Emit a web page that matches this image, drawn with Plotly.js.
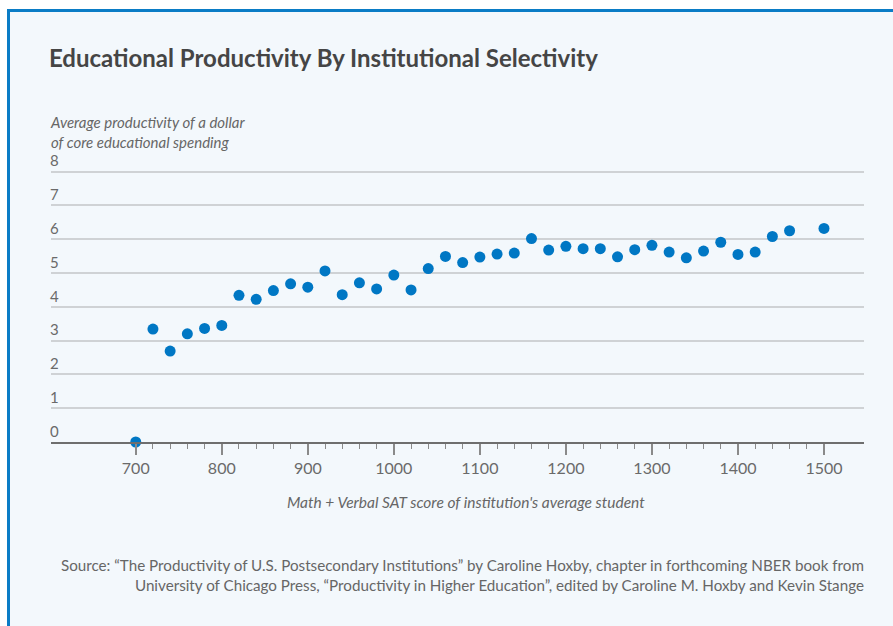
<!DOCTYPE html>
<html>
<head>
<meta charset="utf-8">
<script src="https://cdn.plot.ly/plotly-3.0.1.min.js"></script>
<style>
  html, body { margin: 0; padding: 0; background: #ffffff; }
  #wrap { position: relative; width: 893px; height: 626px; overflow: hidden; }
  #panel { position: absolute; left: 7px; top: 9px; right: -10px; bottom: -10px;
           background: #f3f8fc; border-left: 3px solid #0a7cc6; border-top: 3px solid #0a7cc6; }
  #chart { position: absolute; left: 0; top: 0; width: 893px; height: 626px; }
</style>
</head>
<body>
<div id="wrap">
  <div id="panel"></div>
  <div id="chart"></div>
</div>
<script>
// Math + Verbal SAT score of institution's average student
const satScores = [700, 720, 740, 760, 780, 800, 820, 840, 860, 880, 900, 920, 940, 960, 980,
  1000, 1020, 1040, 1060, 1080, 1100, 1120, 1140, 1160, 1180, 1200, 1220, 1240, 1260, 1280,
  1300, 1320, 1340, 1360, 1380, 1400, 1420, 1440, 1460, 1500];
// Average productivity of a dollar of core educational spending
const productivity = [0.00, 3.34, 2.69, 3.20, 3.36, 3.45, 4.34, 4.22, 4.48, 4.68, 4.58, 5.06, 4.36, 4.71, 4.53,
  4.94, 4.50, 5.13, 5.49, 5.31, 5.47, 5.56, 5.59, 6.02, 5.68, 5.79, 5.72, 5.72, 5.48, 5.69,
  5.82, 5.62, 5.45, 5.65, 5.91, 5.55, 5.62, 6.08, 6.25, 6.32];
const xTickVals = [700, 800, 900, 1000, 1100, 1200, 1300, 1400, 1500];
const yTickVals = [0, 1, 2, 3, 4, 5, 6, 7, 8];

const minorVals = [];
for (let v = xTickVals[0]; v <= xTickVals[xTickVals.length - 1]; v += 20) {
  if (v % 100 !== 0) minorVals.push(v);
}

const FONT = 'Lato, "Source Sans Pro", "Open Sans", sans-serif';

const trace = {
  type: 'scatter',
  mode: 'markers',
  x: satScores,
  y: productivity,
  cliponaxis: false,
  marker: { size: 11, color: '#0077c4' },
  hoverinfo: 'x+y'
};

const layout = {
  width: 893,
  height: 626,
  margin: { l: 51, r: 29, t: 145, b: 184 },
  paper_bgcolor: 'rgba(0,0,0,0)',
  plot_bgcolor: 'rgba(0,0,0,0)',
  showlegend: false,
  font: { family: FONT, color: '#666666' },
  title: {
    text: 'Educational Productivity By Institutional Selectivity',
    xref: 'container', yref: 'container',
    x: 49 / 893, xanchor: 'left',
    y: 1 - 59 / 626, yanchor: 'middle',
    font: { family: FONT, size: 24, color: '#454545', weight: 700 }
  },
  xaxis: {
    range: [601.5, 1546.5],
    tickmode: 'array',
    tickvals: xTickVals,
    ticks: 'outside',
    ticklen: 11,
    tickwidth: 1.5,
    tickcolor: '#8a8a8a',
    showline: true,
    linecolor: '#6e6e6e',
    linewidth: 1.5,
    showgrid: false,
    zeroline: false,
    tickfont: { family: FONT, size: 16, color: '#6a6a6a' },
    minor: { tickmode: 'array', tickvals: minorVals, ticks: 'outside', ticklen: 5,
             tickwidth: 1.2, tickcolor: '#8a8a8a', showgrid: false },
    fixedrange: true
  },
  yaxis: {
    range: [0, 8.787],
    tickmode: 'array',
    tickvals: yTickVals,
    ticks: '',
    ticklabelposition: 'inside top',
    ticklabelstandoff: -4,
    showgrid: true,
    gridcolor: '#cfd2d5',
    gridwidth: 1.5,
    zeroline: false,
    showline: false,
    tickfont: { family: FONT, size: 15, color: '#6a6a6a' },
    fixedrange: true
  },
  annotations: [
    {
      xref: 'paper', yref: 'paper', x: 0, y: 1.0421, xanchor: 'left', yanchor: 'middle',
      xshift: -2, borderpad: 0, align: 'left', showarrow: false,
      text: '<i>Average productivity of a dollar<br>of core educational spending</i>',
      font: { family: FONT, size: 15, color: '#666666' }
    },
    {
      xref: 'paper', yref: 'paper', x: 0.5105, y: -0.2020, xanchor: 'center', yanchor: 'middle',
      showarrow: false,
      text: "<i>Math + Verbal SAT score of institution's average student</i>",
      font: { family: FONT, size: 15.5, color: '#666666' }
    },
    {
      xref: 'paper', yref: 'paper', x: 1, y: -0.4478, xanchor: 'right', yanchor: 'middle',
      xshift: 2, align: 'right', showarrow: false,
      text: 'Source: “The Productivity of U.S. Postsecondary Institutions” by Caroline Hoxby, chapter in forthcoming NBER book from<br>University of Chicago Press, “Productivity in Higher Education”, edited by Caroline M. Hoxby and Kevin Stange',
      font: { family: FONT, size: 15.2, color: '#666666' }
    }
  ]
};

Plotly.newPlot('chart', [trace], layout, { displayModeBar: false, staticPlot: false, responsive: false });
</script>
</body>
</html>
